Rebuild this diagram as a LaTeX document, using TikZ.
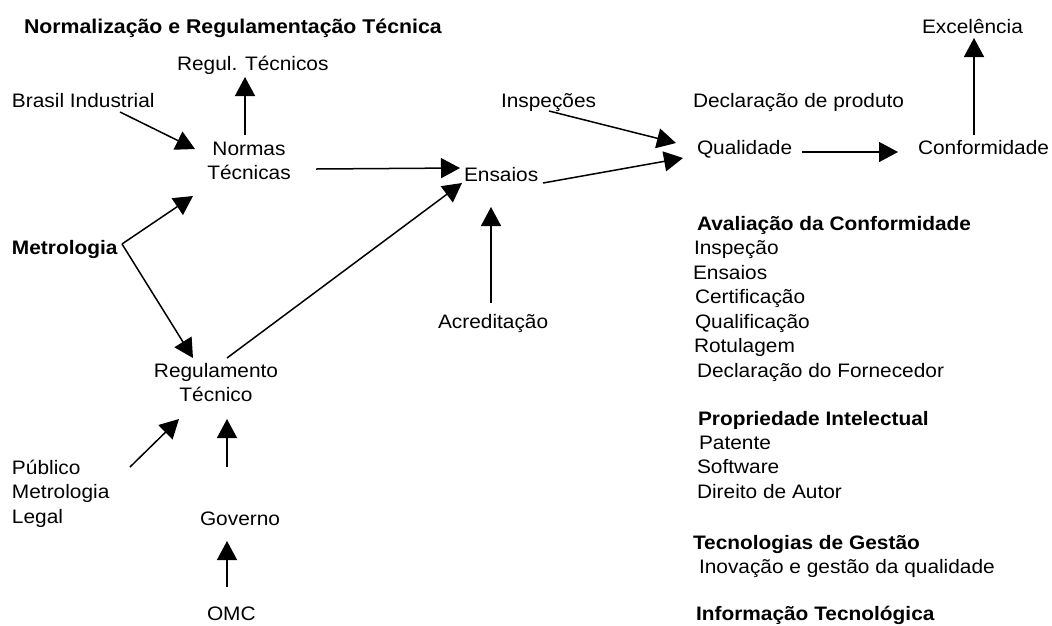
\documentclass[tikz,border=0pt]{standalone}
\usepackage{fontspec}
\setmainfont{Liberation Sans}[FakeStretch=1.07]
\usetikzlibrary{arrows.meta,calc}
\tikzset{
  lbl/.style={font=\fontsize{19.5}{24.5}\selectfont, inner sep=0pt, outer sep=0pt, anchor=base west},
  lblb/.style={lbl, font=\fontsize{19.5}{24.5}\selectfont\bfseries},
  two/.style={font=\fontsize{19.5}{24.5}\selectfont, inner sep=0pt, outer sep=0pt, align=center, anchor=north},
  conn/.style={line width=1.5pt, -{Triangle[length=19pt,width=20pt]}}
}
\begin{document}
\begin{tikzpicture}[x=1pt,y=-1pt]
\useasboundingbox (0,0) rectangle (1052,625);
% left part
\node[lblb, font=\fontsize{19.9}{24.5}\selectfont\bfseries] (title) at (24,33) {Normalização e Regulamentação Técnica};
\node[lbl] (regul) at (177,70) {Regul. Técnicos};
\node[lbl] (brasil) at (12,107) {Brasil Industrial};
\node[two] (normas) at (249,142) {Normas\\Técnicas};
\node[lblb] (metro) at (12,254) {Metrologia};
\node[two] (regulam) at (216,363) {Regulamento\\Técnico};
\node[font=\fontsize{19.5}{24.5}\selectfont, inner sep=0pt, outer sep=0pt, align=left, anchor=north west] (publico) at (12,460) {Público\\Metrologia\\Legal};
\node[lbl] (governo) at (200,525) {Governo};
\node[lbl] (omc) at (207,620) {OMC};
% middle
\node[lbl] (ensaios) at (464,181) {Ensaios};
\node[lbl] (acred) at (438,328) {Acreditação};
\node[lbl] (insp) at (501,107) {Inspeções};
% right
\node[lbl] (decl) at (693,107) {Declaração de produto};
\node[lbl] (qual) at (697,154) {Qualidade};
\node[lbl] (conf) at (918,154) {Conformidade};
\node[lbl] (excel) at (922,33) {Excelência};
% list
\node[lblb] (aval) at (697,230) {Avaliação da Conformidade};
\node[lbl] (l1) at (694,254.5) {Inspeção};
\node[lbl] (l2) at (693,279) {Ensaios};
\node[lbl] (l3) at (695,303.5) {Certificação};
\node[lbl] (l4) at (695,328) {Qualificação};
\node[lbl] (l5) at (694,352.5) {Rotulagem};
\node[lbl] (l6) at (697,377) {Declaração do Fornecedor};
\node[lblb] (prop) at (698,425) {Propriedade Intelectual};
\node[lbl] (p1) at (699,449) {Patente};
\node[lbl] (p2) at (697,473.5) {Software};
\node[lbl] (p3) at (697,498) {Direito de Autor};
\node[lblb] (tec) at (693,549) {Tecnologias de Gestão};
\node[lbl] (t1) at (699,573) {Inovação e gestão da qualidade};
\node[lblb] (info) at (696,620) {Informação Tecnológica};
% connectors
\draw[conn] ($(normas.north)+(-4,-7)$) -- ($(regul.base west)+(68,7)$);
\draw[conn] ($(brasil.base west)+(108,5)$) -- ($(normas.north)+(-54,7)$);
\draw[conn] ($(normas.north)+(67,27)$) -- ($(ensaios.base west)+(-4,-13)$);
\draw[conn] ($(metro.base west)+(110,-10)$) -- ($(normas.north)+(-56,54)$);
\draw[conn] ($(metro.base west)+(110,-10)$) -- ($(regulam.north)+(-23,-5)$);
\draw[conn] ($(regulam.north)+(11,-5)$) -- ($(ensaios.base west)+(-2,2)$);
\draw[conn] ($(publico.north west)+(118,7)$) -- ($(regulam.north)+(-37,56)$);
\draw[conn] ($(governo.base west)+(27,-58)$) -- ($(regulam.north)+(11,56)$);
\draw[conn] ($(omc.base west)+(20,-33)$) -- ($(governo.base west)+(27,16)$);
\draw[conn] ($(acred.base west)+(53,-25)$) -- ($(ensaios.base west)+(27,26)$);
\draw[conn] ($(ensaios.base west)+(79,2)$) -- ($(qual.base west)+(-14,4)$);
\draw[conn] ($(insp.base west)+(48,4)$) -- ($(qual.base west)+(-21,-11)$);
\draw[conn] ($(qual.base west)+(105,-2)$) -- ($(conf.base west)+(-20,-2)$);
\draw[conn] ($(conf.base west)+(56,-19)$) -- ($(excel.base west)+(52,5)$);
\end{tikzpicture}
\end{document}
